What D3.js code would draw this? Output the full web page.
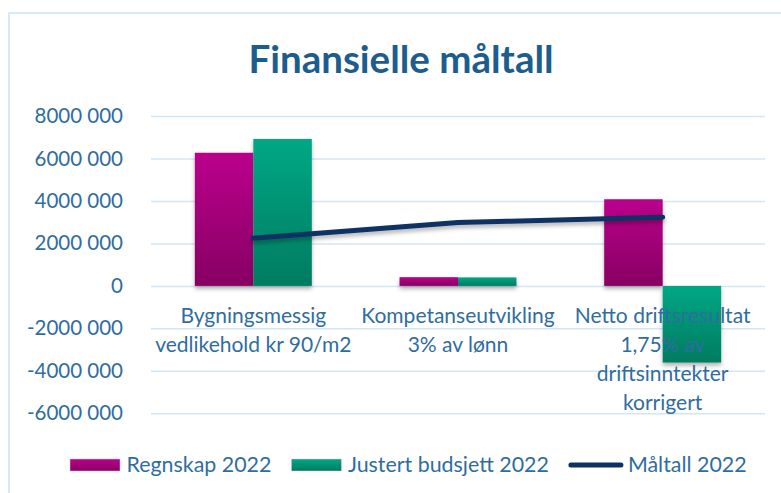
<!DOCTYPE html>
<html>
<head>
<meta charset="utf-8">
<script src="https://cdn.jsdelivr.net/npm/d3@7"></script>
<style>
  body { margin: 0; background: #fff; }
  svg { display: block; font-family: Lato, "Open Sans", sans-serif; }
</style>
</head>
<body>
<svg id="chart" width="781" height="493"></svg>
<script>
/* CHART DATA */
var categories = [
  ["Bygningsmessig", "vedlikehold kr 90/m2"],
  ["Kompetanseutvikling", "3% av lønn"],
  ["Netto driftsresultat", "1,75% av", "driftsinntekter", "korrigert"]
];
var seriesNames = ["Regnskap 2022", "Justert budsjett 2022", "Måltall 2022"];
var regnskap = [6270000, 410000, 4080000];
var budsjett = [6920000, 400000, -3610000];
var maltall = [2240000, 2980000, 3230000];
var yTicks = [-6000000, -4000000, -2000000, 0, 2000000, 4000000, 6000000, 8000000];

var svg = d3.select("#chart");
var textColor = "#2f6d9f";
var gridColor = "#d3e6f6";

/* GRADIENTS AND SHADOW */
var defs = svg.append("defs");
function grad(id, top, bottom) {
  var g = defs.append("linearGradient").attr("id", id)
    .attr("x1", 0).attr("y1", 0).attr("x2", 0).attr("y2", 1);
  g.append("stop").attr("offset", "0%").attr("stop-color", top);
  g.append("stop").attr("offset", "100%").attr("stop-color", bottom);
}
grad("gMag", "#bb008c", "#870063");
grad("gGreen", "#00a884", "#007b60");
var f = defs.append("filter").attr("id", "shadow")
  .attr("x", "-20%").attr("y", "-20%").attr("width", "140%").attr("height", "160%");
f.append("feDropShadow").attr("dx", 0).attr("dy", 3).attr("stdDeviation", 2)
  .attr("flood-color", "#000").attr("flood-opacity", 0.3);

/* OUTER FRAME */
svg.append("rect")
  .attr("x", 9).attr("y", 13).attr("width", 800).attr("height", 520)
  .attr("fill", "none").attr("stroke", "#d6e9f8").attr("stroke-width", 2);

/* TITLE */
svg.append("text")
  .attr("x", 401).attr("y", 72.5)
  .attr("text-anchor", "middle")
  .attr("font-size", "38.5px").attr("font-weight", "bold")
  .attr("fill", "#1d5d8e")
  .text("Finansielle måltall");

/* SCALES */
var x0 = d3.scaleBand().domain(d3.range(categories.length)).range([151, 765]).padding(0);
var bw = x0.bandwidth();
var groupW = bw / 1.75;
var x1 = d3.scaleBand().domain([0, 1]).range([(bw - groupW) / 2, (bw + groupW) / 2]).padding(0);
var y = d3.scaleLinear().domain([-6000000, 8000000]).range([413.3, 116]);

var fmt = function(v) {
  if (v === 0) return "0";
  var s = Math.abs(v) / 1000;
  return (v < 0 ? "-" : "") + s + " 000";
};

/* GRIDLINES AND Y AXIS */
var yAxis = svg.append("g")
  .attr("transform", "translate(151,0)")
  .call(d3.axisLeft(y).tickValues(yTicks).tickSize(-(765 - 151)).tickPadding(28).tickFormat(fmt));
yAxis.select(".domain").remove();
yAxis.selectAll(".tick line").attr("stroke", gridColor).attr("stroke-width", 1.5);
yAxis.selectAll(".tick text")
  .attr("fill", textColor).attr("font-size", "20.5px")
  .attr("font-family", "Lato, 'Open Sans', sans-serif");

/* BARS */
var series = [
  { name: seriesNames[0], values: regnskap, fill: "url(#gMag)" },
  { name: seriesNames[1], values: budsjett, fill: "url(#gGreen)" }
];
var barG = svg.append("g").attr("filter", "url(#shadow)");
series.forEach(function(s, si) {
  barG.selectAll(".bar" + si)
    .data(s.values)
    .enter().append("rect")
    .attr("class", "bar" + si)
    .attr("x", function(d, i) { return x0(i) + x1(si); })
    .attr("width", x1.bandwidth())
    .attr("y", function(d) { return y(Math.max(0, d)); })
    .attr("height", function(d) { return Math.abs(y(d) - y(0)); })
    .attr("fill", s.fill);
});

/* LINE */
var line = d3.line()
  .x(function(d, i) { return x0(i) + bw / 2; })
  .y(function(d) { return y(d); });
svg.append("path")
  .datum(maltall)
  .attr("d", line)
  .attr("fill", "none")
  .attr("stroke", "#0e3163")
  .attr("stroke-width", 5)
  .attr("stroke-linecap", "round")
  .attr("stroke-linejoin", "round")
  .attr("filter", "url(#shadow)");

/* CATEGORY LABELS */
var labels = svg.append("g");
categories.forEach(function(lines, i) {
  var t = labels.append("text")
    .attr("text-anchor", "middle")
    .attr("font-size", "21px")
    .attr("fill", textColor);
  lines.forEach(function(l, j) {
    t.append("tspan")
      .attr("x", x0(i) + bw / 2)
      .attr("y", 322.5 + j * 29.3)
      .text(l);
  });
});

/* LEGEND */
var legend = svg.append("g");
var legendItems = [
  { name: seriesNames[0], type: "rect", fill: "url(#gMag)" },
  { name: seriesNames[1], type: "rect", fill: "url(#gGreen)" },
  { name: seriesNames[2], type: "line", fill: "#0e3163" }
];
var lx = 70, ly = 465;
legendItems.forEach(function(it, i) {
  if (it.type === "rect") {
    legend.append("rect").attr("x", lx).attr("y", ly - 6).attr("width", 50).attr("height", 12)
      .attr("fill", it.fill).attr("stroke", "#e7c6de").attr("stroke-width", 0.5);
    lx += 56.5;
  } else {
    legend.append("line").attr("x1", lx + 2).attr("x2", lx + 52).attr("y1", ly).attr("y2", ly)
      .attr("stroke", it.fill).attr("stroke-width", 5).attr("stroke-linecap", "round");
    lx += 59;
  }
  var t = legend.append("text").attr("x", lx).attr("y", ly + 6.5)
    .attr("font-size", "21.4px").attr("fill", textColor).text(it.name);
  lx += t.node().getComputedTextLength() + 20;
});
</script>
</body>
</html>
